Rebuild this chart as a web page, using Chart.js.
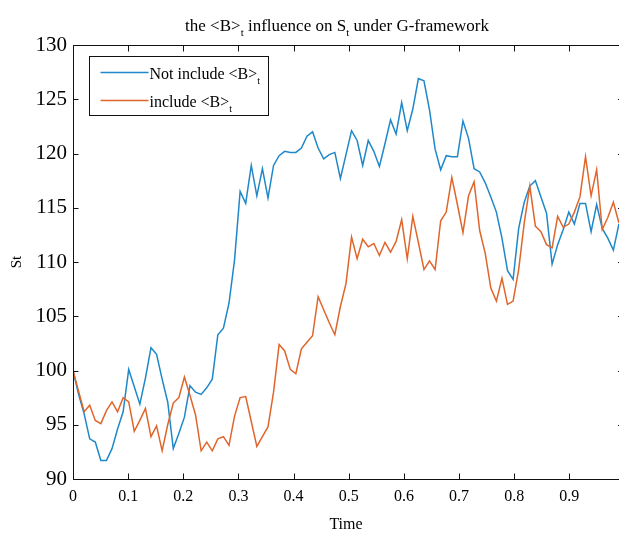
<!DOCTYPE html>
<html>
<head>
<meta charset="utf-8">
<script src="https://cdn.jsdelivr.net/npm/chart.js@4.4.1/dist/chart.umd.min.js"></script>
<style>
  html, body { margin: 0; padding: 0; background: #fff; overflow: hidden; }
  #wrap { position: absolute; left: 0; top: 0; width: 619px; height: 533px; }
</style>
</head>
<body>
<div id="wrap"><canvas id="canvas" width="619" height="533"></canvas></div>
<script>
// "_t" marks a subscript t
const titleText = 'the <B>_t influence on S_t under G-framework';
const xTitle = 'Time';
const yTitle = 'St';
const seriesLabels = ['Not include <B>_t', 'include <B>_t'];
const seriesColors = ['#1f88c8', '#e0652b'];

const xTicks = [0, 0.1, 0.2, 0.3, 0.4, 0.5, 0.6, 0.7, 0.8, 0.9];
const yTicks = [90, 95, 100, 105, 110, 115, 120, 125, 130];

// St without <B>t (blue)
const notInclude = [
  100, 97.8, 96.0, 93.7, 93.4, 91.7, 91.7, 92.8, 94.6, 96.2,
  100.1, 98.5, 96.9, 99.3, 102.1, 101.5, 99.2, 97.1, 92.8, 94.2,
  95.7, 98.6, 98.0, 97.8, 98.4, 99.2, 103.3, 103.9, 106.2, 110.2,
  116.5, 115.4, 118.9, 116.1, 118.6, 115.9, 118.9, 119.8, 120.2, 120.1,
  120.1, 120.5, 121.6, 122.0, 120.5, 119.5, 119.9, 120.1, 117.7, 119.9,
  122.1, 121.2, 118.9, 121.2, 120.2, 118.8, 120.9, 123.1, 121.8, 124.7,
  122.1, 124.1, 126.9, 126.7, 124.0, 120.4, 118.5, 119.8, 119.7, 119.7,
  123.0, 121.4, 118.6, 118.3, 117.3, 116.0, 114.6, 112.2, 109.2, 108.4,
  113.1, 115.5, 117.0, 117.5, 116.0, 114.5, 109.8, 111.6, 113.0, 114.6,
  113.5, 115.4, 115.4, 112.8, 115.3, 113.1, 112.2, 111.1, 113.5
];

// St with <B>t (orange)
const include = [
  100, 98.1, 96.2, 96.8, 95.4, 95.1, 96.3, 97.1, 96.2, 97.5,
  97.1, 94.4, 95.4, 96.5, 93.9, 94.9, 92.6, 95.0, 97.0, 97.5,
  99.4, 97.7, 95.9, 92.6, 93.4, 92.6, 93.7, 93.9, 93.1, 95.8,
  97.5, 97.6, 95.3, 93.0, 93.9, 94.8, 98.0, 102.4, 101.8, 100.1,
  99.7, 102.0, 102.6, 103.2, 106.8, 105.6, 104.4, 103.3, 105.9, 108.0,
  112.3, 110.3, 112.1, 111.4, 111.7, 110.6, 111.8, 110.9, 111.9, 113.9,
  110.3, 114.2, 111.8, 109.3, 110.1, 109.3, 113.8, 114.6, 117.8, 115.3,
  112.7, 116.1, 117.4, 112.9, 110.8, 107.6, 106.4, 108.5, 106.1, 106.4,
  109.3, 113.6, 117.0, 113.3, 112.8, 111.6, 111.3, 114.2, 113.2, 113.5,
  114.6, 116.0, 119.7, 116.1, 118.5, 113.0, 114.1, 115.5, 113.6
];

// samples spread evenly over [0, 1] (100 of them, the last falls outside the crop)
const time = notInclude.map((v, i) => i / 99);

const serif = '"Liberation Serif", "Times New Roman", serif';

function richText(ctx, text, x, y, size, align) {
  const parts = text.split(/(_\w)/).filter(p => p.length);
  const subSize = Math.round(size * 0.65);
  let total = 0;
  parts.forEach(p => {
    ctx.font = (p[0] === '_' ? subSize : size) + 'px ' + serif;
    total += ctx.measureText(p[0] === '_' ? p.slice(1) : p).width;
  });
  let cx = align === 'center' ? x - total / 2 : x;
  ctx.textAlign = 'left';
  ctx.textBaseline = 'alphabetic';
  parts.forEach(p => {
    const sub = p[0] === '_';
    const s = sub ? p.slice(1) : p;
    ctx.font = (sub ? subSize : size) + 'px ' + serif;
    ctx.fillText(s, cx, sub ? y + size * 0.32 : y);
    cx += ctx.measureText(s).width;
  });
}

// MATLAB style box: inward ticks, right side is cut off by the crop
const frame = {
  id: 'frame',
  afterDraw(chart) {
    const ctx = chart.ctx;
    const a = chart.chartArea;
    const x = chart.scales.x, y = chart.scales.y;
    const L = Math.round(a.left) + 0.5;
    const T = Math.round(a.top) + 0.5, B = Math.round(a.bottom) + 0.5;
    const edge = x.getPixelForValue(1); // real right border, outside the canvas
    ctx.save();
    ctx.strokeStyle = '#111';
    ctx.lineWidth = 1;
    ctx.beginPath();
    ctx.moveTo(L, T); ctx.lineTo(chart.width, T);
    ctx.moveTo(L, T); ctx.lineTo(L, B);
    ctx.lineTo(chart.width, B);
    xTicks.forEach(v => {
      const px = Math.round(x.getPixelForValue(v)) + 0.5;
      ctx.moveTo(px, B); ctx.lineTo(px, B - 6);
      ctx.moveTo(px, T); ctx.lineTo(px, T + 6);
    });
    yTicks.forEach(v => {
      const py = Math.round(y.getPixelForValue(v)) + 0.5;
      ctx.moveTo(L, py); ctx.lineTo(L + 5, py);
      ctx.moveTo(edge, py); ctx.lineTo(edge - 6.5, py);
    });
    ctx.stroke();

    // title
    ctx.fillStyle = '#000';
    richText(ctx, titleText, 337, 31, 17, 'center');

    // legend box
    const bx = L + 16, by = T + 11, bw = 179, bh = 59;
    ctx.fillStyle = '#fff';
    ctx.fillRect(bx, by, bw, bh);
    ctx.strokeStyle = '#111';
    ctx.strokeRect(bx, by, bw, bh);
    seriesLabels.forEach((lab, i) => {
      const ly = by + 16 + i * 28;
      ctx.strokeStyle = seriesColors[i];
      ctx.lineWidth = 1.5;
      ctx.beginPath();
      ctx.moveTo(bx + 11, ly); ctx.lineTo(bx + 59, ly);
      ctx.stroke();
      ctx.fillStyle = '#000';
      richText(ctx, lab, bx + 60, ly + 6, 16, 'left');
    });
    ctx.restore();
  }
};

const ctx = document.getElementById('canvas').getContext('2d');
const chart = new Chart(ctx, {
  type: 'line',
  data: {
    datasets: [
      {
        label: seriesLabels[0].replace('_', ''),
        data: time.map((t, i) => ({ x: t, y: notInclude[i] })),
        borderColor: seriesColors[0],
        order: 1
      },
      {
        label: seriesLabels[1].replace('_', ''),
        data: time.map((t, i) => ({ x: t, y: include[i] })),
        borderColor: seriesColors[1],
        order: 0
      }
    ]
  },
  options: {
    responsive: false,
    animation: false,
    layout: { padding: { top: 45, right: 0, left: 0, bottom: 0 } },
    plugins: {
      legend: { display: false },
      title: { display: false },
      tooltip: { enabled: false }
    },
    elements: {
      point: { radius: 0 },
      line: { tension: 0, borderWidth: 1.5, fill: false }
    },
    scales: {
      x: {
        type: 'linear',
        min: 0,
        max: 0.99,
        afterFit: s => { s.height = 54; },
        afterBuildTicks: s => { s.ticks = xTicks.map(v => ({ value: v })); },
        grid: { display: false, drawTicks: false },
        border: { display: false },
        ticks: {
          color: '#000',
          font: { family: serif, size: 16 },
          padding: 8,
          maxRotation: 0,
          autoSkip: false,
          callback: v => String(v)
        },
        title: {
          display: true,
          text: xTitle,
          color: '#000',
          font: { family: serif, size: 16, lineHeight: 1 },
          padding: { top: 0, bottom: 0 }
        }
      },
      y: {
        type: 'linear',
        min: 90,
        max: 130,
        afterFit: s => { s.width = 73; },
        afterBuildTicks: s => { s.ticks = yTicks.map(v => ({ value: v })); },
        grid: { display: false, drawTicks: false },
        border: { display: false },
        ticks: {
          color: '#000',
          font: { family: serif, size: 21 },
          padding: 6,
          autoSkip: false
        },
        title: {
          display: true,
          text: yTitle,
          color: '#000',
          font: { family: serif, size: 15, lineHeight: 1 },
          padding: { top: 10, bottom: 0 }
        }
      }
    }
  },
  plugins: [frame]
});
</script>
</body>
</html>
